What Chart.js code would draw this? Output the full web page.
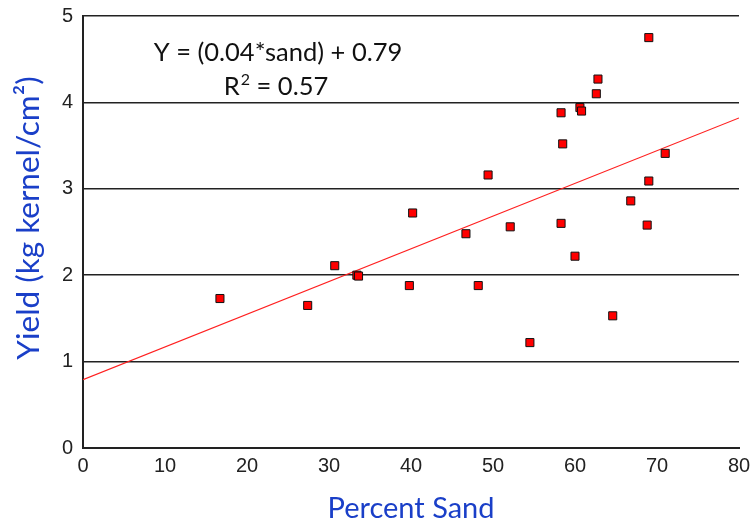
<!DOCTYPE html>
<html>
<head>
<meta charset="utf-8">
<script src="https://cdn.jsdelivr.net/npm/chart.js@4/dist/chart.umd.min.js"></script>
<style>
  html, body { margin: 0; padding: 0; background: #fff; }
</style>
</head>
<body>
<canvas id="chartSable" width="752" height="525"></canvas>
<script>
// points: % sand vs yield
var sable = [16.7, 27.4, 30.7, 33.4, 33.6, 39.8, 40.2, 46.7, 48.2, 49.4, 52.1, 54.5,
             58.3, 58.5, 58.3, 60.0, 60.6, 60.8, 62.6, 62.8, 64.6, 66.8, 69.0, 69.0, 68.8, 71.0];
var rendement = [1.73, 1.65, 2.11, 2.00, 1.99, 1.88, 2.72, 2.48, 1.88, 3.16, 2.56, 1.22,
                 3.88, 3.52, 2.60, 2.22, 3.94, 3.90, 4.10, 4.27, 1.53, 2.86, 4.75, 3.09, 2.58, 3.41];
// regression line ends as drawn
var tendanceX = [0, 80];
var tendanceY = [0.79, 3.82];
var ticksX = [0, 10, 20, 30, 40, 50, 60, 70, 80];
var ticksY = [0, 1, 2, 3, 4, 5];

var bleu = '#1a3fc8';
var police = 'Lato, "Open Sans", sans-serif';

var points = sable.map(function (x, i) { return { x: x, y: rendement[i] }; });
var ligne = tendanceX.map(function (x, i) { return { x: x, y: tendanceY[i] }; });

// equation text and y title
var textes = {
    id: 'textes',
    afterDraw: function (chart) {
        var ctx = chart.ctx;
        ctx.save();
        ctx.fillStyle = '#111';
        ctx.textBaseline = 'alphabetic';
        ctx.font = '25.5px ' + police;
        ctx.textAlign = 'center';
        ctx.fillText('Y = (0.04*sand) + 0.79', 278, 61);

        // R² line, centred
        ctx.textAlign = 'left';
        var wR = ctx.measureText('R').width;
        var wFin = ctx.measureText(' = 0.57').width;
        ctx.font = '16px ' + police;
        var w2 = ctx.measureText('2').width;
        var x = 276 - (wR + 1 + w2 + wFin) / 2;
        ctx.font = '25.5px ' + police;
        ctx.fillText('R', x, 95);
        x += wR + 1;
        ctx.font = '16px ' + police;
        ctx.fillText('2', x, 85);
        x += w2;
        ctx.font = '25.5px ' + police;
        ctx.fillText(' = 0.57', x, 95);

        ctx.translate(29, 218);
        ctx.rotate(-Math.PI / 2);
        ctx.textAlign = 'center';
        ctx.textBaseline = 'middle';
        ctx.fillStyle = bleu;
        ctx.font = '31.5px ' + police;
        ctx.fillText('Yield (kg kernel/cm\u00B2)', 0, 0);
        ctx.restore();
    }
};

var ctx = document.getElementById('chartSable').getContext('2d');
var chart = new Chart(ctx, {
    type: 'scatter',
    data: {
        datasets: [{
            label: 'Yield',
            data: points,
            pointStyle: 'rect',
            pointRadius: 5.7,
            backgroundColor: '#ff0000',
            borderColor: '#111',
            borderWidth: 1
        }, {
            label: 'Trend',
            type: 'line',
            data: ligne,
            borderColor: '#ff2020',
            borderWidth: 1.2,
            pointRadius: 0,
            fill: false
        }]
    },
    options: {
        responsive: false,
        animation: false,
        layout: { padding: { top: 16, right: 13, left: 0, bottom: 0 } },
        plugins: {
            legend: { display: false },
            tooltip: { enabled: false }
        },
        scales: {
            x: {
                type: 'linear',
                min: 0,
                max: 80,
                afterBuildTicks: function (s) { s.ticks = ticksX.map(function (v) { return { value: v }; }); },
                afterFit: function (s) { s.height = 77; s.paddingLeft = 0; s.paddingRight = 0; },
                ticks: { color: '#222', font: { family: 'Arial, "Liberation Sans"', size: 20 }, padding: 6, maxRotation: 0 },
                grid: { display: false, drawTicks: false },
                border: { display: true, color: '#222', width: 2 },
                title: { display: true, text: 'Percent Sand', color: bleu, font: { family: police, size: 29 }, padding: { top: 0, bottom: -1 } }
            },
            y: {
                min: 0,
                max: 5,
                afterBuildTicks: function (s) { s.ticks = ticksY.map(function (v) { return { value: v }; }); },
                afterFit: function (s) { s.width = 83; s.paddingTop = 0; s.paddingBottom = 0; },
                ticks: { color: '#222', font: { family: 'Arial, "Liberation Sans"', size: 20 }, padding: 10 },
                grid: { color: '#222', lineWidth: 1.5, drawTicks: false },
                border: { display: true, color: '#222', width: 2 }
            }
        }
    },
    plugins: [textes]
});
</script>
</body>
</html>
